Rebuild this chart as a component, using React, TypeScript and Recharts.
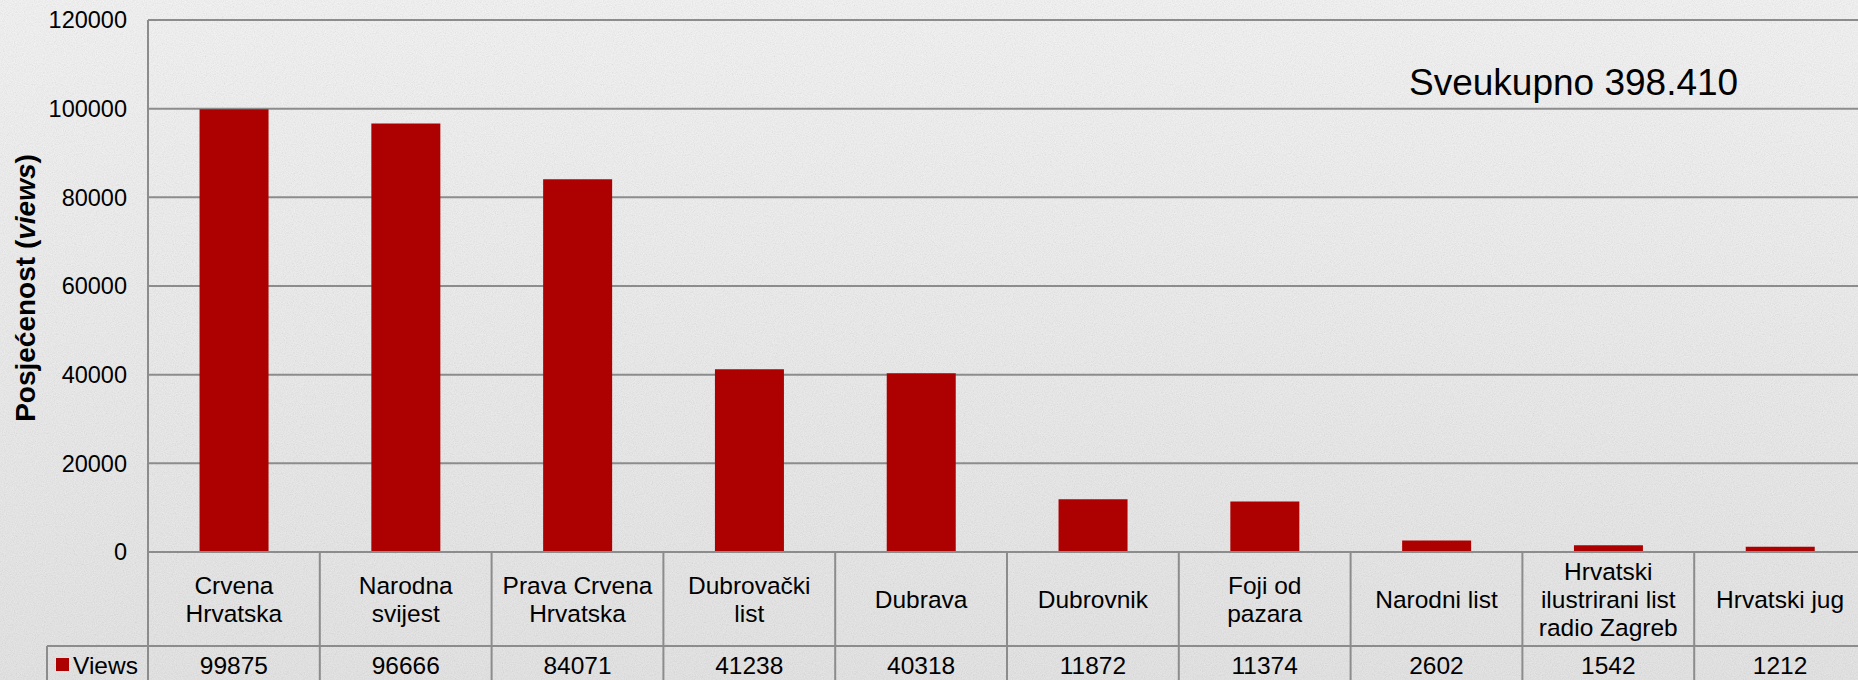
import React from "react";
import { BarChart, Bar, XAxis, YAxis, CartesianGrid, Customized } from "recharts";

const categories = [
  "Crvena\nHrvatska",
  "Narodna\nsvijest",
  "Prava Crvena\nHrvatska",
  "Dubrovački\nlist",
  "Dubrava",
  "Dubrovnik",
  "Foji od\npazara",
  "Narodni list",
  "Hrvatski\nilustrirani list\nradio Zagreb",
  "Hrvatski jug",
];
const views = [99875, 96666, 84071, 41238, 40318, 11872, 11374, 2602, 1542, 1212];
const yTicks = [0, 20000, 40000, 60000, 80000, 100000, 120000];
const seriesName = "Views";
const yLabelMain = "Posjećenost (";
const yLabelItalic = "views";
const yLabelEnd = ")";
const totalLabel = "Sveukupno 398.410";

const data = categories.map((c, i) => ({ name: c, views: views[i] }));

const CHART_W = 1866;
const CHART_H = 680;
const MARGIN = { top: 20, right: 0, bottom: 0, left: 0 };
const Y_W = 148;
const X_H = 128;
const PLOT_W = CHART_W - MARGIN.left - MARGIN.right - Y_W;
const CELL_W = PLOT_W / categories.length;
const ROW1_H = 94;
const FONT = "'Liberation Sans', Arial, sans-serif";
const GRID = "#8c8c8c";
const BAR = "#ad0000";

function TableTick(props: any) {
  const { x, y, payload } = props;
  const i = payload.index;
  const left = x - CELL_W / 2;
  const right = x + CELL_W / 2;
  const split = y + ROW1_H;
  const lines = String(payload.value).split("\n");
  const cy = y + ROW1_H / 2;
  const lh = 28;
  return (
    <g>
      {i === 0 && (
        <g>
          <line x1={left} y1={y} x2={left} y2={CHART_H + 5} stroke={GRID} strokeWidth={2} />
          <line x1={47} y1={split} x2={left} y2={split} stroke={GRID} strokeWidth={2} />
          <line x1={47} y1={split} x2={47} y2={CHART_H + 5} stroke={GRID} strokeWidth={2} />
          <rect x={56} y={658} width={13} height={13} fill={BAR} />
          <text x={73} y={split + 19 + 8.5} fontSize={24.5} fontFamily={FONT} fill="#000">
            {seriesName}
          </text>
        </g>
      )}
      <line x1={right} y1={y} x2={right} y2={CHART_H + 5} stroke={GRID} strokeWidth={2} />
      <line x1={left} y1={split} x2={right} y2={split} stroke={GRID} strokeWidth={2} />
      <text textAnchor="middle" fontSize={24.5} fontFamily={FONT} fill="#000">
        {lines.map((ln, k) => (
          <tspan key={k} x={x} y={cy + (k - (lines.length - 1) / 2) * lh + 8.5}>
            {ln}
          </tspan>
        ))}
      </text>
      <text x={x} y={split + 19 + 8.5} textAnchor="middle" fontSize={24.5} fontFamily={FONT} fill="#000">
        {views[i]}
      </text>
    </g>
  );
}

function Overlay() {
  return (
    <g>
      <text
        x={35}
        y={288}
        transform="rotate(-90, 35, 288)"
        textAnchor="middle"
        fontSize={28}
        fontWeight="bold"
        fontFamily={FONT}
        fill="#000"
      >
        {yLabelMain}
        <tspan fontStyle="italic">{yLabelItalic}</tspan>
        {yLabelEnd}
      </text>
      <text x={1409} y={95} fontSize={37} fontFamily={FONT} fill="#000">
        {totalLabel}
      </text>
    </g>
  );
}

export default function App() {
  return (
    <div
      style={{
        position: "absolute",
        left: 0,
        top: 0,
        width: 1858,
        height: 680,
        overflow: "hidden",
      }}
    >
      <svg width={1858} height={680} style={{ position: "absolute", left: 0, top: 0 }}>
        <defs>
          <linearGradient id="bgGrad" x1="0" y1="0" x2="0" y2="1">
            <stop offset="0%" stopColor="#f4f4f4" />
            <stop offset="100%" stopColor="#e4e4e4" />
          </linearGradient>
          <filter id="paper" x="0" y="0" width="100%" height="100%">
            <feTurbulence type="fractalNoise" baseFrequency="0.9" numOctaves={3} stitchTiles="stitch" />
            <feColorMatrix type="matrix" values="1 0 0 0 0  1 0 0 0 0  1 0 0 0 0  0 0 0 0 0.13" />
          </filter>
        </defs>
        <rect x={0} y={0} width={1858} height={680} fill="url(#bgGrad)" />
        <rect x={0} y={0} width={1858} height={680} filter="url(#paper)" />
      </svg>
      <div style={{ position: "absolute", left: 0, top: 0 }}>
        <BarChart width={CHART_W} height={CHART_H} data={data} margin={MARGIN} barCategoryGap="30%">
          <CartesianGrid vertical={false} stroke={GRID} strokeWidth={2} />
          <XAxis
            dataKey="name"
            height={X_H}
            interval={0}
            tickLine={false}
            tickSize={0}
            tickMargin={0}
            axisLine={{ stroke: GRID, strokeWidth: 2 }}
            tick={<TableTick />}
          />
          <YAxis
            width={Y_W}
            domain={[0, 120000]}
            ticks={yTicks}
            interval={0}
            tickLine={false}
            tickSize={0}
            tickMargin={21}
            axisLine={{ stroke: GRID, strokeWidth: 2 }}
            tick={{ fontSize: 23.5, fontFamily: FONT, fill: "#000" }}
          />
          <Bar dataKey="views" name={seriesName} fill={BAR} isAnimationActive={false} />
          <Customized component={Overlay} />
        </BarChart>
      </div>
    </div>
  );
}
